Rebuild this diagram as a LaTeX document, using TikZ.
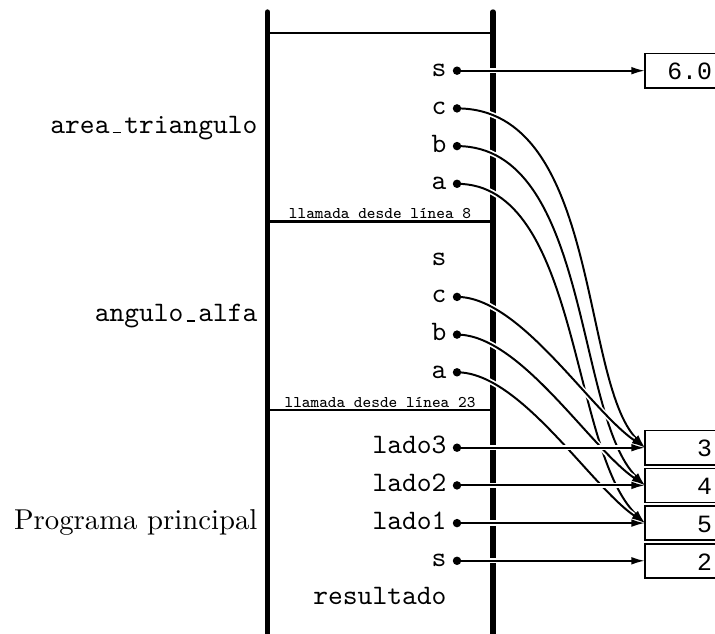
\documentclass[tikz,border=0pt]{standalone}
\usepackage{fontspec}
\newfontfamily\valfont{Liberation Mono}
\usetikzlibrary{arrows.meta,calc}
\newcommand\usc{\leavevmode\kern.1125em\vbox{\hrule width.3em height.6pt}\kern.1125em}
\begin{document}
\begin{tikzpicture}[x=0.355pt,y=-0.355pt,
  stackbar/.style={line width=1.9pt,line cap=round},
  sepline/.style={line width=0.8pt},
  conn/.style={line width=0.7pt,-{Latex[length=4.8pt,width=2.7pt]},
    preaction={draw=white,line width=1.9pt,-,shorten >=5pt}},
  dot/.style={circle,fill=black,inner sep=0pt,minimum size=3pt},
  varlab/.style={font=\ttfamily,anchor=mid east,inner sep=0pt},
  framelab/.style={anchor=mid east,inner sep=0pt},
  callab/.style={font=\fontsize{5.8}{7}\selectfont\ttfamily,anchor=base,inner sep=0pt},
  valbox/.style={anchor=west,minimum width=60pt,minimum height=11.7pt,inner sep=0pt},
  boxline/.style={line width=0.55pt},
  valtext/.style={font=\fontsize{8.8}{10}\selectfont\valfont,anchor=base east,inner sep=0pt}]
\useasboundingbox (0,0) rectangle (715,633);
\clip (0,0) rectangle (715,633);

% stack frame
\coordinate (lt) at (267.5,12);
\coordinate (lb) at (267.5,660);
\coordinate (rt) at (493,12);
\coordinate (rb) at (493,660);
\draw[stackbar] (lt) -- (lb);
\draw[stackbar] (rt) -- (rb);
\coordinate (h0l) at (267.5,33);   \coordinate (h0r) at (493,33);
\coordinate (h1l) at (267.5,221.5); \coordinate (h1r) at (493,221.5);
\coordinate (h2l) at (267.5,410);  \coordinate (h2r) at (493,410);
\draw[sepline] (h0l) -- (h0r);
\draw[sepline] (h1l) -- (h1r);
\draw[sepline] (h2l) -- (h2r);
\node[callab] (call8) at (380,218.5) {llamada desde línea 8};
\node[callab] (call23) at (380,407) {llamada desde línea 23};

% frame names
\node[framelab,font=\ttfamily] (fa) at (258,127.2) {area\usc triangulo};
\node[framelab,font=\ttfamily] (fb) at (258,315.7) {angulo\usc alfa};
\node[framelab,font=\fontsize{10.2}{12}\selectfont] (fc) at (258,523.1) {Programa principal};

% variable names
\node[varlab] (ts) at (447,70.7) {s};
\node[varlab] (tc) at (447,108.4) {c};
\node[varlab] (tb) at (447,146.1) {b};
\node[varlab] (ta) at (447,183.8) {a};
\node[varlab] (ms) at (447,259.2) {s};
\node[varlab] (mc) at (447,296.9) {c};
\node[varlab] (mb) at (447,334.6) {b};
\node[varlab] (ma) at (447,372.3) {a};
\node[varlab] (l3) at (447,447.7) {lado3};
\node[varlab] (l2) at (447,485.4) {lado2};
\node[varlab] (l1) at (447,523.1) {lado1};
\node[varlab] (bs) at (447,560.8) {s};
\node[varlab] (res) at (447,598.5) {resultado};

% dot positions
\coordinate (tsd) at (457,70.7);
\coordinate (tcd) at (457,108.4);
\coordinate (tbd) at (457,146.1);
\coordinate (tad) at (457,183.8);
\coordinate (mcd) at (457,296.9);
\coordinate (mbd) at (457,334.6);
\coordinate (mad) at (457,372.3);
\coordinate (l3d) at (457,447.7);
\coordinate (l2d) at (457,485.4);
\coordinate (l1d) at (457,523.1);
\coordinate (bsd) at (457,560.8);

% value boxes (cut off by the right margin)
\foreach \b/\y in {b60/70.7,b3/447.7,b4/485.4,b5/523.1,b2/560.8}{
  \node[valbox] (\b) at (645,\y) {};
  \draw[boxline] ($(\b.north west)+(140,0)$) -- (\b.north west) -- (\b.south west) -- ++(140,0);
}
\node[valtext] (v60) at (712.5,79.9) {6.0};
\node[valtext] (v3) at (712.5,456.9) {3};
\node[valtext] (v4) at (712.5,494.6) {4};
\node[valtext] (v5) at (712.5,532.3) {5};
\node[valtext] (v2) at (712.5,570.0) {2};

% connectors
\draw[conn] (tsd) -- (b60.west);
\draw[conn] (tcd) .. controls ($(tcd)+(143,0)$) and ($(b3.west)+(-65,-68)$) .. (b3.west);
\draw[conn] (tbd) .. controls ($(tbd)+(133,0)$) and ($(b4.west)+(-70,-70)$) .. (b4.west);
\draw[conn] (tad) .. controls ($(tad)+(123,0)$) and ($(b5.west)+(-75,-73)$) .. (b5.west);
\draw[conn] (mcd) .. controls ($(mcd)+(63,0)$) and ($(b3.west)+(-55,-37.7)$) .. (b3.west);
\draw[conn] (mbd) .. controls ($(mbd)+(63,0)$) and ($(b4.west)+(-55,-37.7)$) .. (b4.west);
\draw[conn] (mad) .. controls ($(mad)+(63,0)$) and ($(b5.west)+(-55,-37.7)$) .. (b5.west);
\draw[conn] (l3d) -- (b3.west);
\draw[conn] (l2d) -- (b4.west);
\draw[conn] (l1d) -- (b5.west);
\draw[conn] (bsd) -- (b2.west);

% dots
\foreach \d in {tsd,tcd,tbd,tad,mcd,mbd,mad,l3d,l2d,l1d,bsd}
  \node[dot] (\d-dot) at (\d) {};
\end{tikzpicture}
\end{document}
